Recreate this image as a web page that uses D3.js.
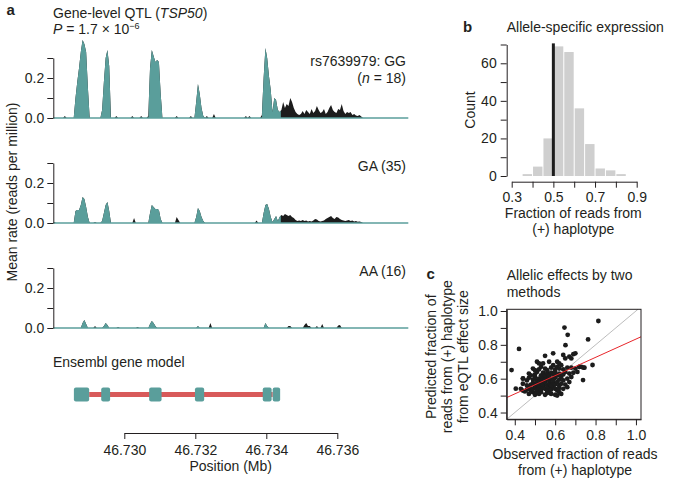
<!DOCTYPE html>
<html><head><meta charset="utf-8">
<script src="https://cdn.jsdelivr.net/npm/d3@7"></script>
<style>body{margin:0;background:#fff}svg{font-family:"Liberation Sans",Arial,Helvetica,sans-serif;}</style>
</head><body>
<svg id="c" width="673" height="482"></svg>
<script>
// ---------------- DATA ----------------
// Panel a: coverage (reads per million), runs of 50-bp bins starting at given position (Mb)
const binMb = 0.00005;
const regionStart = 46.728, regionEnd = 46.738;
const ggRuns = [
  {start:46.72830, values:[0.01]},
  {start:46.72860, values:[0.10,0.18,0.25,0.33,0.39,0.37,0.33,0.15]},
  {start:46.72935, values:[0.04,0.18,0.30,0.34,0.26]},
  {start:46.72975, values:[0.01]},
  {start:46.73020, values:[0.01]},
  {start:46.73045, values:[0.01]},
  {start:46.73065, values:[0.01,0.25,0.34,0.31,0.28,0.29,0.28,0.12]},
  {start:46.73145, values:[0.01]},
  {start:46.73185, values:[0.01]},
  {start:46.73200, values:[0.08,0.17,0.12,0.05,0.01]},
  {start:46.73230, values:[0.01]},
  {start:46.73250, values:[0.02]},
  {start:46.73340, values:[0.01]},
  {start:46.73350, values:[0.01]},
  {start:46.73385, values:[0.015,0.20,0.35,0.30,0.21,0.14,0.03,0.10,0.09,0.04,0.03,
    0.04,0.08,0.05,0.07,0.06,0.10,0.08,0.05,0.03,0.02,0.015,0.02,0.035,0.02,0.04,0.03,0.02,0.045,0.025,0.035,
    0.06,0.04,0.025,0.03,0.045,0.02,0.03,0.05,0.065,0.04,0.03,0.025,0.045,0.04,0.07,0.035,0.02,0.03,0.025,0.03,
    0.015,0.02,0.012,0.01,0.015,0.008]}
];
const gaRuns = [
  {start:46.72800, values:[0.005]},
  {start:46.72860, values:[0.06,0.065,0.065,0.09,0.13,0.12,0.08,0.03]},
  {start:46.72915, values:[0.005]},
  {start:46.72935, values:[0.01,0.05,0.09,0.105,0.06]},
  {start:46.73025, values:[0.025]},
  {start:46.73070, values:[0.05,0.09,0.08,0.07,0.07,0.065,0.02]},
  {start:46.73145, values:[0.03,0.015]},
  {start:46.73200, values:[0.03,0.075,0.06,0.03,0.01]},
  {start:46.73370, values:[0.012]},
  {start:46.73390, values:[0.05,0.09,0.095,0.07,0.03,0.005,0.02,0.035,0.01,0.03,
    0.04,0.035,0.045,0.04,0.035,0.04,0.03,0.025,0.015,0.01,0.012,0.01,0.015,0.01,0.012,0.008,0.01,0.008,0.012,0.02,
    0.018,0.01,0.008,0.01,0.012,0.02,0.025,0.03,0.035,0.025,0.02,0.03,0.028,0.02,0.015,0.012,0.01,0.012,0.015,0.01,
    0.012,0.008,0.01,0.006,0.008,0.005]}
];
const aaRuns = [
  {start:46.72880, values:[0.025,0.04,0.02]},
  {start:46.72915, values:[0.01]},
  {start:46.72940, values:[0.01,0.025,0.015]},
  {start:46.72980, values:[0.005]},
  {start:46.73035, values:[0.005]},
  {start:46.73070, values:[0.02,0.035,0.025,0.01]},
  {start:46.73205, values:[0.01]},
  {start:46.73240, values:[0.025]},
  {start:46.73395, values:[0.025,0.01]},
  {start:46.73460, values:[0.01,0.01]},
  {start:46.73505, values:[0.015,0.025,0.01,0.01]},
  {start:46.73540, values:[0.01]},
  {start:46.73555, values:[0.02]},
  {start:46.73600, values:[0.012,0.015]}
];
const genotypeLabels = ["rs7639979: GG", "GA (35)", "AA (16)"];
const exonStarts = [46.72858, 46.72935, 46.73070, 46.73199, 46.73390, 46.73418];
const exonEnds   = [46.72901, 46.72960, 46.73105, 46.73225, 46.73415, 46.73439];
const positionTicks = [46.730, 46.732, 46.734, 46.736];
const rateTicks = [0, 0.1, 0.2, 0.3];

// Panel b: histogram
const histEdges = [0.35,0.40,0.45,0.50,0.55,0.60,0.65,0.70,0.75,0.80,0.85];
const histCounts = [1,5,20,69,66,36,17,4,3,1];
const fracTicks = [0.3,0.4,0.5,0.6,0.7,0.8,0.9];
const countTicks = [0,10,20,30,40,50,60,70];

// Panel c: scatter [observed, predicted]
const scatterPoints = [
  [0.384,0.651],[0.405,0.541],[0.421,0.776],[0.814,0.941],[0.646,0.902],[0.662,0.859],[0.763,0.832],
  [0.651,0.798],[0.785,0.681],[0.738,0.592],[0.441,0.602],[0.72,0.67],[0.745,0.665],[0.70,0.75],[0.69,0.745],
  [0.47,0.51],[0.49,0.52],[0.50,0.505],[0.52,0.51],[0.53,0.52],[0.55,0.505],[0.56,0.515],[0.58,0.51],
  [0.60,0.505],[0.61,0.50],[0.63,0.51],[0.45,0.525],[0.51,0.525],[0.57,0.52],[0.62,0.52],
  [0.43,0.54],[0.44,0.53],[0.46,0.535],[0.47,0.545],[0.48,0.53],[0.49,0.54],[0.50,0.55],[0.51,0.535],
  [0.52,0.545],[0.53,0.535],[0.54,0.55],[0.55,0.54],[0.56,0.53],[0.57,0.545],[0.58,0.535],[0.59,0.55],
  [0.60,0.54],[0.61,0.53],[0.62,0.545],[0.64,0.54],[0.66,0.55],
  [0.44,0.57],[0.46,0.56],[0.48,0.565],[0.49,0.575],[0.50,0.56],[0.51,0.57],[0.52,0.56],[0.53,0.575],
  [0.54,0.565],[0.55,0.58],[0.56,0.56],[0.57,0.57],[0.58,0.56],[0.59,0.575],[0.60,0.565],[0.61,0.58],
  [0.62,0.56],[0.63,0.57],[0.65,0.565],[0.67,0.58],
  [0.44,0.60],[0.46,0.59],[0.47,0.605],[0.49,0.595],[0.50,0.61],[0.51,0.59],[0.52,0.60],[0.53,0.59],
  [0.54,0.605],[0.55,0.595],[0.56,0.61],[0.57,0.59],[0.58,0.60],[0.59,0.59],[0.60,0.605],[0.62,0.595],
  [0.63,0.61],[0.64,0.59],[0.66,0.60],[0.68,0.61],
  [0.47,0.63],[0.48,0.62],[0.50,0.625],[0.51,0.64],[0.53,0.62],[0.54,0.635],[0.55,0.62],[0.56,0.63],
  [0.57,0.62],[0.58,0.635],[0.59,0.625],[0.60,0.64],[0.61,0.62],[0.62,0.63],[0.64,0.625],[0.65,0.64],
  [0.67,0.63],[0.69,0.635],[0.71,0.64],
  [0.49,0.66],[0.50,0.65],[0.52,0.655],[0.53,0.67],[0.55,0.66],[0.56,0.65],[0.58,0.665],[0.59,0.68],
  [0.60,0.655],[0.61,0.67],[0.62,0.66],[0.63,0.68],[0.64,0.655],[0.66,0.665],[0.68,0.665],[0.70,0.66],
  [0.72,0.67],[0.74,0.665],
  [0.51,0.70],[0.52,0.69],[0.54,0.69],[0.55,0.735],[0.57,0.70],[0.59,0.75],[0.61,0.70],[0.62,0.69],
  [0.64,0.74],[0.65,0.72],[0.67,0.73],[0.68,0.72],[0.73,0.67]
];
const fitIntercept = 0.294, fitSlope = 0.54;
const scatterTicks = [0.4,0.5,0.6,0.7,0.8,0.9,1.0];

// ---------------- DRAW ----------------
const TEAL = "#5a9e9b", DARK = "#1c1c1c", RED = "#d85a5a";
const svg = d3.select("#c");
const fs = 14;

function txt(g, x, y, s, opts = {}) {
  const t = g.append("text").attr("x", x).attr("y", y).attr("font-size", opts.size || fs)
    .attr("fill", "#231f20").attr("text-anchor", opts.anchor || "start");
  if (opts.weight) t.attr("font-weight", opts.weight);
  if (opts.rotate) t.attr("transform", `rotate(-90,${x},${y})`);
  t.text(s);
  return t;
}

// ----- Panel a -----
const xA = d3.scaleLinear().domain([regionStart, regionEnd]).range([53.3, 408.3]);
txt(svg, 6.5, 15, "a", {weight: "bold", size: 15});
const t1 = txt(svg, 53, 17.5, "Gene-level QTL (");
t1.append("tspan").attr("font-style", "italic").text("TSP50");
t1.append("tspan").text(")");
const t2 = svg.append("text").attr("x", 53).attr("y", 34).attr("font-size", fs).attr("fill", "#231f20");
t2.append("tspan").attr("font-style", "italic").text("P");
t2.append("tspan").text(" = 1.7 \u00d7 10");
t2.append("tspan").attr("font-size", 9).attr("dy", -5).text("\u22126");

const defs = svg.append("defs");
const clip = defs.append("clipPath").attr("id", "exonClip");
exonStarts.forEach((s, i) => {
  clip.append("rect").attr("x", xA(s) - 0.7).attr("y", 0).attr("width", xA(exonEnds[i]) - xA(s) + 1.4).attr("height", 482);
});

const nBins = Math.round((regionEnd - regionStart) / binMb);
const trackBase = [118, 223, 328];
[ggRuns, gaRuns, aaRuns].forEach((runs, k) => {
  const vals = new Array(nBins).fill(0);
  runs.forEach(r => {
    const i0 = Math.round((r.start - regionStart) / binMb);
    r.values.forEach((v, j) => { if (i0 + j < nBins) vals[i0 + j] = v; });
  });
  const data = vals.map((v, i) => ({pos: regionStart + (i + 0.5) * binMb, v}));
  const base = trackBase[k];
  const y = d3.scaleLinear().domain([0, 0.3]).range([base, base - 60]);
  const area = d3.area().curve(d3.curveLinear).x(d => xA(d.pos)).y0(y(0)).y1(d => y(d.v));
  const g = svg.append("g");
  g.append("path").attr("d", area(data)).attr("fill", DARK);
  g.append("path").attr("d", area(data)).attr("fill", TEAL).attr("clip-path", "url(#exonClip)");
  g.append("line").attr("x1", xA(regionStart)).attr("x2", xA(regionEnd)).attr("y1", y(0)).attr("y2", y(0))
    .attr("stroke", TEAL).attr("stroke-width", 1.6);
  const ax = g.append("g").attr("transform", `translate(${xA(regionStart)},0)`)
    .call(d3.axisLeft(y).tickValues(rateTicks).tickSize(6).tickSizeOuter(0).tickPadding(3)
      .tickFormat(d => (Math.abs(d) < 1e-9 || Math.abs(d - 0.2) < 1e-9) ? d.toFixed(1) : ""));
  ax.selectAll("text").attr("font-size", fs).attr("font-family", null).attr("fill", "#231f20");
  ax.selectAll("path,line").attr("stroke", "#231f20");
  txt(svg, 406, base - 52.5, genotypeLabels[k], {anchor: "end"});
  if (k === 0) {
    const l2 = svg.append("text").attr("x", 406).attr("y", base - 35.5).attr("text-anchor", "end")
      .attr("font-size", fs).attr("fill", "#231f20");
    l2.append("tspan").text("(");
    l2.append("tspan").attr("font-style", "italic").text("n");
    l2.append("tspan").text(" = 18)");
  }
});
txt(svg, 17, 192, "Mean rate (reads per million)", {rotate: true, anchor: "middle"});

// gene model
txt(svg, 53, 367, "Ensembl gene model");
svg.append("line").attr("x1", xA(exonEnds[0])).attr("x2", xA(exonStarts[exonStarts.length - 1]))
  .attr("y1", 394.5).attr("y2", 394.5).attr("stroke", RED).attr("stroke-width", 5);
exonStarts.forEach((s, i) => {
  svg.append("rect").attr("x", xA(s)).attr("y", 387.5).attr("width", xA(exonEnds[i]) - xA(s)).attr("height", 14)
    .attr("rx", 2).attr("fill", TEAL);
});
const xPos = xA.copy().domain([positionTicks[0], positionTicks[positionTicks.length - 1]])
  .range([xA(positionTicks[0]), xA(positionTicks[positionTicks.length - 1])]);
const axP = svg.append("g").attr("transform", "translate(0,433)")
  .call(d3.axisBottom(xPos).tickValues(positionTicks).tickSize(6).tickSizeOuter(0).tickPadding(6).tickFormat(d3.format(".3f")));
axP.selectAll("text").attr("font-size", fs).attr("font-family", null).attr("fill", "#231f20");
axP.selectAll("path,line").attr("stroke", "#231f20");
txt(svg, 230.7, 471, "Position (Mb)", {anchor: "middle"});

// ----- Panel b -----
txt(svg, 463, 32, "b", {weight: "bold", size: 15});
txt(svg, 506.7, 32, "Allele-specific expression");
const xB = d3.scaleLinear().domain([0.3, 0.9]).range([511.7, 636.7]);
const yB = d3.scaleLinear().domain([0, 70]).range([176, 44.5]);
histCounts.forEach((c, i) => {
  svg.append("rect").attr("x", xB(histEdges[i]) + 0.5).attr("width", xB(histEdges[i + 1]) - xB(histEdges[i]) - 1)
    .attr("y", yB(c)).attr("height", yB(0) - yB(c)).attr("fill", "#cfcfcf");
});
svg.append("line").attr("x1", xB(0.5)).attr("x2", xB(0.5)).attr("y1", yB(70.6)).attr("y2", yB(0))
  .attr("stroke", DARK).attr("stroke-width", 3);
const axBy = svg.append("g").attr("transform", "translate(506.7,0)")
  .call(d3.axisLeft(yB).tickValues(countTicks).tickSize(6).tickSizeOuter(0).tickPadding(4)
    .tickFormat(d => d % 20 === 0 ? d : ""));
const axBx = svg.append("g").attr("transform", "translate(0,181.7)")
  .call(d3.axisBottom(xB).tickValues(fracTicks).tickSize(6).tickSizeOuter(0).tickPadding(4)
    .tickFormat(d => [0.3, 0.5, 0.7, 0.9].some(v => Math.abs(v - d) < 1e-9) ? d.toFixed(1) : ""));
[axBy, axBx].forEach(a => {
  a.selectAll("text").attr("font-size", fs).attr("font-family", null).attr("fill", "#231f20");
  a.selectAll("path,line").attr("stroke", "#231f20");
});
txt(svg, 475, 110, "Count", {rotate: true, anchor: "middle"});
txt(svg, 573.3, 217.5, "Fraction of reads from", {anchor: "middle"});
txt(svg, 573.3, 234, "(+) haplotype", {anchor: "middle"});

// ----- Panel c -----
txt(svg, 426.5, 278.5, "c", {weight: "bold", size: 15});
txt(svg, 506.7, 280, "Allelic effects by two");
txt(svg, 506.7, 296.5, "methods");
const xC = d3.scaleLinear().domain([0.36, 1.025]).range([506.7, 641]);
const yC = d3.scaleLinear().domain([0.36, 1.01]).range([419.3, 309.3]);
svg.append("line").attr("x1", xC(0.36)).attr("y1", yC(0.36)).attr("x2", xC(1.01)).attr("y2", yC(1.01))
  .attr("stroke", "#bdbdbd").attr("stroke-width", 1);
svg.append("g").selectAll("circle").data(scatterPoints).join("circle")
  .attr("cx", d => xC(d[0])).attr("cy", d => yC(d[1])).attr("r", 2.4).attr("fill", DARK);
svg.append("line").attr("x1", xC(0.36)).attr("y1", yC(fitIntercept + fitSlope * 0.36))
  .attr("x2", xC(1.025)).attr("y2", yC(fitIntercept + fitSlope * 1.025))
  .attr("stroke", "#e8262b").attr("stroke-width", 1);
svg.append("rect").attr("x", 506.7).attr("y", 309.3).attr("width", 641 - 506.7).attr("height", 419.3 - 309.3)
  .attr("fill", "none").attr("stroke", "#231f20").attr("stroke-width", 1);
const axCx = svg.append("g").attr("transform", "translate(0,419.3)")
  .call(d3.axisBottom(xC).tickValues(scatterTicks).tickSize(6).tickSizeOuter(0).tickPadding(5)
    .tickFormat(d => [0.4, 0.6, 0.8, 1.0].some(v => Math.abs(v - d) < 1e-9) ? d.toFixed(1) : ""));
const axCy = svg.append("g").attr("transform", "translate(506.7,0)")
  .call(d3.axisLeft(yC).tickValues(scatterTicks).tickSize(6).tickSizeOuter(0).tickPadding(3)
    .tickFormat(d => [0.4, 0.6, 0.8, 1.0].some(v => Math.abs(v - d) < 1e-9) ? d.toFixed(1) : ""));
[axCx, axCy].forEach(a => {
  a.selectAll("text").attr("font-size", fs).attr("font-family", null).attr("fill", "#231f20");
  a.selectAll("path,line").attr("stroke", "#231f20");
});
txt(svg, 436.5, 356.7, "Predicted fraction of", {rotate: true, anchor: "middle"});
txt(svg, 452.5, 356.7, "reads from (+) haplotype", {rotate: true, anchor: "middle"});
txt(svg, 468.5, 356.7, "from eQTL effect size", {rotate: true, anchor: "middle"});
txt(svg, 575, 458.5, "Observed fraction of reads", {anchor: "middle"});
txt(svg, 575, 474.5, "from (+) haplotype", {anchor: "middle"});
</script>
</body></html>
